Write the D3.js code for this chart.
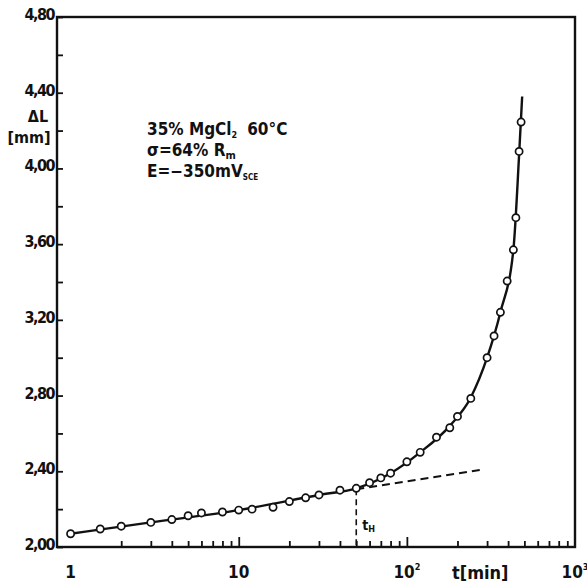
<!DOCTYPE html>
<html>
<head>
<meta charset="utf-8">
<script src="https://cdn.jsdelivr.net/npm/d3@7"></script>
<style>
  body { margin: 0; background: #fff; }
  text { font-family: "DejaVu Sans Condensed", "DejaVu Sans", sans-serif; font-weight: bold; fill: #111; }
</style>
</head>
<body>
<div id="chart"></div>
<script>
// measured points, t [min] and delta L [mm]
var tValues = [1, 1.5, 2, 3, 4, 5, 6, 8, 10, 12, 16, 20, 25, 30, 40, 50, 60, 70, 80,
               100, 120, 150, 180, 200, 240, 300, 330, 360, 395, 430, 445, 465, 478];
var dlValues = [2.07, 2.095, 2.11, 2.13, 2.145, 2.165, 2.18, 2.185, 2.195, 2.20, 2.21, 2.24, 2.26, 2.275, 2.30, 2.31, 2.34, 2.365, 2.39,
                2.45, 2.50, 2.58, 2.63, 2.69, 2.785, 3.00, 3.115, 3.24, 3.405, 3.57, 3.74, 4.09, 4.245];

// hand drawn fit curve
var fitT = [1, 3, 10, 30, 50, 80, 120, 180, 240, 300, 360, 430, 465, 485];
var fitDL = [2.07, 2.13, 2.195, 2.275, 2.31, 2.39, 2.50, 2.64, 2.79, 3.0, 3.24, 3.57, 4.07, 4.38];

// dashed extrapolation of the linear part
var tangentT = [50, 285];
var tangentDL = [2.305, 2.41];

var tH = 50;

var yTicksMajor = [2.0, 2.4, 2.8, 3.2, 3.6, 4.0, 4.4, 4.8];
var yTickLabels = ["2,00", "2,40", "2,80", "3,20", "3,60", "4,00", "4,40", "4,80"];
var yTicksMinor = [2.2, 2.6, 3.0, 3.4, 3.8, 4.2, 4.6];
var xTicksMajor = [1, 10, 100, 1000];

(function() {
    var width = 587,
        height = 587;

    var svg = d3.select("#chart")
        .append("svg")
        .attr("width", width)
        .attr("height", height);

    var x = d3.scaleLog().domain([0.83, 1000]).range([57, 575]);
    var y = d3.scaleLinear().domain([2.0, 4.8]).range([547, 17]);

    var points = tValues.map(function(t, i) { return {t: t, v: dlValues[i]} });
    var fit = fitT.map(function(t, i) { return {t: t, v: fitDL[i]} });
    var tangent = tangentT.map(function(t, i) { return {t: t, v: tangentDL[i]} });

    // frame
    svg.append("rect")
        .attr("x", x.range()[0]).attr("y", y.range()[1])
        .attr("width", x.range()[1] - x.range()[0])
        .attr("height", y.range()[0] - y.range()[1])
        .attr("fill", "none")
        .attr("stroke", "#111")
        .attr("stroke-width", 2.4);

    // bottom ticks (inside, 2..9 each decade)
    var xMinor = [];
    [1, 10, 100].forEach(function(dec) {
        for (var k = 2; k <= 9; k++) xMinor.push(dec * k);
    });
    var xAxis = d3.axisBottom(x).tickValues(xMinor.concat(xTicksMajor.slice(1, 3)))
        .tickSize(-6).tickFormat("");
    var gx = svg.append("g")
        .attr("transform", "translate(0," + y.range()[0] + ")")
        .call(xAxis);
    gx.select(".domain").remove();
    gx.selectAll(".tick line")
        .attr("stroke", "#111")
        .attr("stroke-width", 1.8)
        .attr("y2", function(d) { return (d === 10 || d === 100) ? -10 : -6 });

    // left ticks (inside)
    var yAxis = d3.axisLeft(y).tickValues(yTicksMajor.concat(yTicksMinor))
        .tickSize(-6).tickFormat("");
    var gy = svg.append("g")
        .attr("transform", "translate(" + x.range()[0] + ",0)")
        .call(yAxis);
    gy.select(".domain").remove();
    gy.selectAll(".tick line").attr("stroke", "#111").attr("stroke-width", 1.8);

    // y labels
    svg.selectAll(".ylab")
        .data(yTicksMajor)
        .enter()
        .append("text")
        .attr("class", "ylab")
        .attr("x", 54)
        .attr("y", function(d) { return y(d) + 3 })
        .attr("text-anchor", "end")
        .attr("font-size", 16)
        .attr("letter-spacing", -1.5)
        .text(function(d, i) { return yTickLabels[i] });

    // x labels
    var xl = svg.selectAll(".xlab")
        .data(xTicksMajor)
        .enter()
        .append("text")
        .attr("class", "xlab")
        .attr("x", function(d) { return x(d) })
        .attr("y", 578)
        .attr("text-anchor", "middle")
        .attr("font-size", 17);
    xl.append("tspan").text(function(d) { return d === 1 ? "1" : "10" });
    xl.append("tspan")
        .attr("font-size", 9)
        .attr("dy", -8)
        .text(function(d) { return d === 100 ? "2" : (d === 1000 ? "3" : "") });

    svg.append("text")
        .attr("x", 452).attr("y", 579)
        .attr("font-size", 18)
        .text("t[min]");

    // y title
    svg.append("text")
        .attr("x", 38).attr("y", 122)
        .attr("text-anchor", "middle")
        .attr("font-size", 16)
        .text("\u0394L");
    svg.append("text")
        .attr("x", 29).attr("y", 143)
        .attr("text-anchor", "middle")
        .attr("font-size", 16)
        .text("[mm]");

    // annotation
    var a1 = svg.append("text").attr("x", 147).attr("y", 135).attr("font-size", 17);
    a1.append("tspan").text("35% MgCl");
    a1.append("tspan").attr("font-size", 9).attr("dy", 3).text("2");
    a1.append("tspan").attr("dy", -3).attr("dx", 10).text("60\u00b0C");

    var a2 = svg.append("text").attr("x", 147).attr("y", 156).attr("font-size", 17);
    a2.append("tspan").text("\u03c3=64% R");
    a2.append("tspan").attr("font-size", 11).attr("dy", 3).text("m");

    var a3 = svg.append("text").attr("x", 147).attr("y", 177).attr("font-size", 17);
    a3.append("tspan").text("E=\u2212350mV");
    a3.append("tspan").attr("font-size", 8).attr("dy", 3).text("SCE");

    // tangent dashed line
    var line = d3.line()
        .x(function(d) { return x(d.t) })
        .y(function(d) { return y(d.v) });

    svg.append("path")
        .datum(tangent)
        .attr("d", line)
        .attr("fill", "none")
        .attr("stroke", "#111")
        .attr("stroke-width", 2)
        .attr("stroke-dasharray", "8,5");

    // t_H marker
    svg.append("line")
        .attr("x1", x(tH)).attr("x2", x(tH))
        .attr("y1", y(2.305)).attr("y2", y(2.0))
        .attr("stroke", "#111")
        .attr("stroke-width", 1.6)
        .attr("stroke-dasharray", "6,4");
    var th = svg.append("text")
        .attr("x", x(tH) + 6).attr("y", 530)
        .attr("font-size", 14);
    th.append("tspan").text("t");
    th.append("tspan").attr("font-size", 9).attr("dy", 2).text("H");

    // fit curve
    svg.append("path")
        .datum(fit)
        .attr("d", line.curve(d3.curveMonotoneX))
        .attr("fill", "none")
        .attr("stroke", "#111")
        .attr("stroke-width", 2.4);

    // measured points
    svg.selectAll(".pt")
        .data(points)
        .enter()
        .append("circle")
        .attr("class", "pt")
        .attr("cx", function(d) { return x(d.t) })
        .attr("cy", function(d) { return y(d.v) })
        .attr("r", 3.6)
        .attr("fill", "#fff")
        .attr("stroke", "#111")
        .attr("stroke-width", 1.7);
})();
</script>
</body>
</html>
